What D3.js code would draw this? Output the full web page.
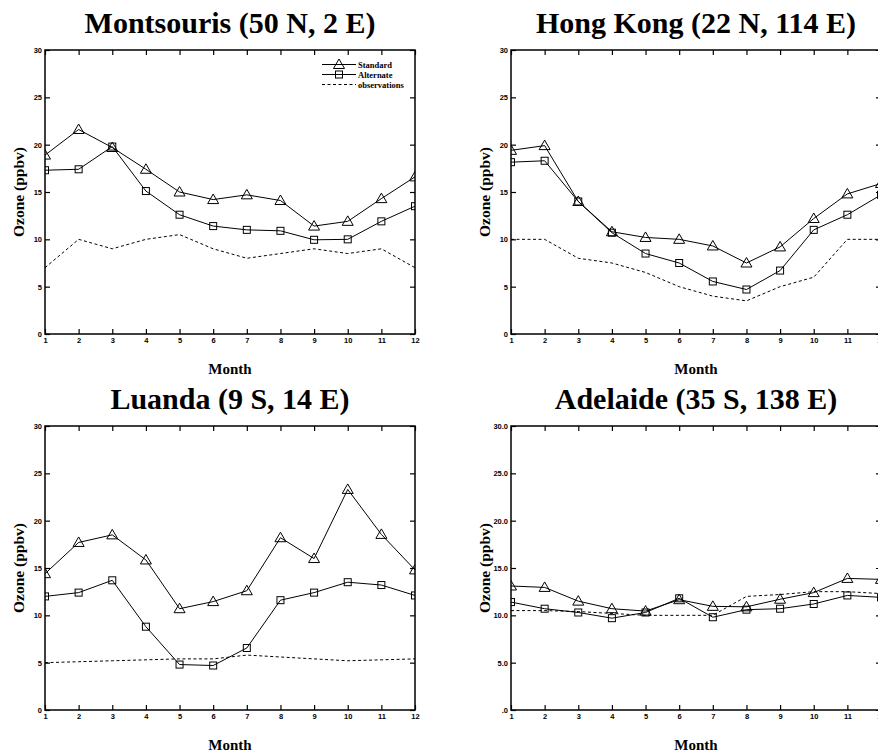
<!doctype html>
<html lang="en">
<head>
<meta charset="utf-8">
<title>Ozone seasonal cycle</title>
<style>
html, body {
	margin: 0;
	padding: 0;
	background: #fff;
	overflow: hidden;
}
svg {
	font-family: 'Liberation Serif', 'Times New Roman', serif;
	font-weight: bold;
}
.frame {
	fill: none;
	stroke: #000;
	stroke-width: 1.5px;
}
.tick line {
	stroke: #000;
	stroke-width: 1.2px;
}
.series {
	fill: none;
	stroke: #000;
	stroke-width: 1px;
}
.obs {
	stroke-dasharray: 3, 2.5;
}
.marker {
	fill: none;
	stroke: #000;
	stroke-width: 1px;
}
</style>
</head>
<body>
<div id="chart"></div>
<script src="https://cdnjs.cloudflare.com/ajax/libs/d3/7.8.5/d3.min.js"></script>
<script>
/* DATA */

var months = [1, 2, 3, 4, 5, 6, 7, 8, 9, 10, 11, 12];
var yTicks = [0, 5, 10, 15, 20, 25, 30];
var yTickLabelsPlain = ['0', '5', '10', '15', '20', '25', '30'];
var yTickLabelsDecimal = ['.0', '5.0', '10.0', '15.0', '20.0', '25.0', '30.0'];

var stations = ['Montsouris (50 N, 2 E)', 'Hong Kong (22 N, 114 E)', 'Luanda (9 S, 14 E)', 'Adelaide (35 S, 138 E)'];

var montsourisStandard  = [18.9, 21.6, 19.7, 17.4, 15.0, 14.2, 14.7, 14.1, 11.4, 11.9, 14.3, 16.6];
var montsourisAlternate = [17.3, 17.4, 19.8, 15.1, 12.6, 11.4, 11.0, 10.9, 9.95, 10.0, 11.9, 13.5];
var montsourisObs       = [7.0, 10.0, 9.0, 10.0, 10.5, 9.0, 8.0, 8.5, 9.0, 8.5, 9.0, 7.0];

var hongkongStandard  = [19.4, 19.9, 14.0, 10.8, 10.2, 10.0, 9.3, 7.5, 9.2, 12.2, 14.8, 15.9];
var hongkongAlternate = [18.15, 18.3, 14.0, 10.7, 8.5, 7.5, 5.55, 4.7, 6.7, 11.0, 12.6, 14.7];
var hongkongObs       = [10.0, 10.0, 8.0, 7.5, 6.5, 5.0, 4.0, 3.5, 5.0, 6.0, 10.0, 10.0];

var luandaStandard  = [14.4, 17.7, 18.5, 15.85, 10.7, 11.45, 12.6, 18.2, 16.0, 23.3, 18.55, 14.8];
var luandaAlternate = [12.0, 12.4, 13.7, 8.8, 4.8, 4.7, 6.55, 11.6, 12.4, 13.5, 13.2, 12.1];
var luandaObs       = [5.0, 5.1, 5.2, 5.3, 5.4, 5.4, 5.8, 5.6, 5.4, 5.2, 5.3, 5.4];

var adelaideStandard  = [13.1, 12.95, 11.5, 10.7, 10.45, 11.65, 10.95, 10.9, 11.7, 12.4, 13.9, 13.8];
var adelaideAlternate = [11.4, 10.7, 10.3, 9.7, 10.3, 11.8, 9.8, 10.6, 10.7, 11.2, 12.1, 11.9];
var adelaideObs       = [10.5, 10.5, 10.4, 10.2, 10.0, 10.0, 10.0, 12.0, 12.2, 12.5, 12.5, 12.3];

var legendLabels = ['Standard', 'Alternate', 'observations'];

/* LAYOUT */

var W = 878, H = 754;
var PLOT_W = 370, PLOT_H = 284;

var panels = [
	{ name: stations[0], x: 45,  y: 50,  std: montsourisStandard, alt: montsourisAlternate, obs: montsourisObs, labels: yTickLabelsPlain, legend: true },
	{ name: stations[1], x: 511, y: 50,  std: hongkongStandard,   alt: hongkongAlternate,   obs: hongkongObs,   labels: yTickLabelsPlain },
	{ name: stations[2], x: 45,  y: 426, std: luandaStandard,     alt: luandaAlternate,     obs: luandaObs,     labels: yTickLabelsPlain },
	{ name: stations[3], x: 511, y: 426, std: adelaideStandard,   alt: adelaideAlternate,   obs: adelaideObs,   labels: yTickLabelsDecimal }
];

var svg = d3.select('#chart').append('svg')
	.attr('width', W)
	.attr('height', H);

var x = d3.scaleLinear().domain([1, 12]).range([0, PLOT_W]);
var y = d3.scaleLinear().domain([0, 30]).range([PLOT_H, 0]);

/* MARKERS */

var triangle = function (g, cx, cy) {
	g.append('path')
		.attr('class', 'marker')
		.attr('d', 'M' + cx + ',' + (cy - 5.5) + 'L' + (cx + 5.5) + ',' + (cy + 4) + 'L' + (cx - 5.5) + ',' + (cy + 4) + 'Z');
};

var square = function (g, cx, cy) {
	g.append('rect')
		.attr('class', 'marker')
		.attr('x', cx - 3.5)
		.attr('y', cy - 3.5)
		.attr('width', 7)
		.attr('height', 7);
};

var line = d3.line()
	.x(function (d, i) { return x(months[i]); })
	.y(function (d) { return y(d); });

/* RENDER */

var drawPanel = function (p, idx) {
	var g = svg.append('g').attr('transform', 'translate(' + p.x + ',' + p.y + ')');

	g.append('defs').append('clipPath')
		.attr('id', 'clip' + idx)
		.append('rect')
		.attr('width', PLOT_W)
		.attr('height', PLOT_H);

	// axes, ticks pointing inward on all four sides
	var bottom = g.append('g')
		.attr('transform', 'translate(0,' + PLOT_H + ')')
		.call(d3.axisBottom(x).tickValues(months).tickSize(-5).tickPadding(3.5).tickFormat(d3.format('d')));
	var top = g.append('g')
		.call(d3.axisTop(x).tickValues(months).tickSize(-5).tickFormat(''));
	var left = g.append('g')
		.call(d3.axisLeft(y).tickValues(yTicks).tickSize(-5).tickPadding(3)
			.tickFormat(function (d, i) { return p.labels[i]; }));
	var right = g.append('g')
		.attr('transform', 'translate(' + PLOT_W + ',0)')
		.call(d3.axisRight(y).tickValues(yTicks).tickSize(-5).tickFormat(''));

	[bottom, top, left, right].forEach(function (a) {
		a.select('.domain').remove();
		a.selectAll('text')
			.attr('font-family', null)
			.attr('font-size', 7.5)
			.attr('fill', '#000');
	});

	g.append('rect')
		.attr('class', 'frame')
		.attr('width', PLOT_W)
		.attr('height', PLOT_H);

	var data = g.append('g').attr('clip-path', 'url(#clip' + idx + ')');

	data.append('path').attr('class', 'series obs').attr('d', line(p.obs));
	data.append('path').attr('class', 'series').attr('d', line(p.std));
	data.append('path').attr('class', 'series').attr('d', line(p.alt));

	p.std.forEach(function (v, i) { triangle(data, x(months[i]), y(v)); });
	p.alt.forEach(function (v, i) { square(data, x(months[i]), y(v)); });

	// titles
	g.append('text')
		.attr('x', PLOT_W / 2)
		.attr('y', -17)
		.attr('text-anchor', 'middle')
		.attr('font-size', 30)
		.text(p.name);

	g.append('text')
		.attr('x', PLOT_W / 2)
		.attr('y', PLOT_H + 40)
		.attr('text-anchor', 'middle')
		.attr('font-size', 15)
		.text('Month');

	g.append('text')
		.attr('transform', 'translate(-21,' + (PLOT_H / 2) + ') rotate(-90)')
		.attr('text-anchor', 'middle')
		.attr('font-size', 15.5)
		.text('Ozone (ppbv)');

	if (p.legend) {
		var lg = g.append('g').attr('transform', 'translate(277,14.5)');
		legendLabels.forEach(function (label, i) {
			var ly = i * 10;
			lg.append('line')
				.attr('class', 'series' + (i === 2 ? ' obs' : ''))
				.attr('x1', 0).attr('x2', 34)
				.attr('y1', ly).attr('y2', ly);
			if (i === 0) { triangle(lg, 17, ly); }
			if (i === 1) { square(lg, 17, ly); }
			lg.append('text')
				.attr('x', 36)
				.attr('y', ly + 3)
				.attr('font-size', 8.5)
				.text(label);
		});
	}
};

panels.forEach(drawPanel);
</script>
</body>
</html>
